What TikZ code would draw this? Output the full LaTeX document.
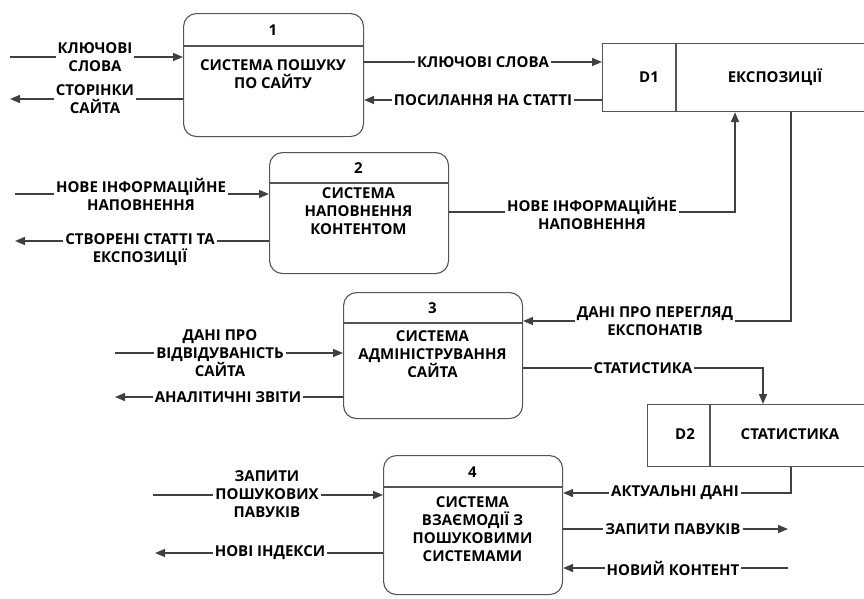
\documentclass[tikz,border=0pt]{standalone}
\usepackage{fontspec}
\setmainfont{Open Sans}
\usetikzlibrary{arrows.meta}
\definecolor{boxc}{RGB}{85,85,85}
\definecolor{linec}{RGB}{64,64,64}
\begin{document}
\begin{tikzpicture}[x=1pt,y=-1pt,
  every node/.style={font=\bfseries\fontsize{15}{18}\selectfont, text=black, inner sep=0pt},
  proc/.style={draw=boxc, line width=1.1pt, rounded corners=13pt, anchor=north west, minimum width=179pt},
  store/.style={draw=boxc, line width=1.1pt, anchor=north west},
  divl/.style={draw=boxc, line width=1.1pt},
  flow/.style={draw=linec, line width=1.6pt, -{Triangle[length=10pt,width=8pt]}},
  lbl/.style={fill=white, align=center, inner xsep=2pt, inner ysep=1pt},
  ptxt/.style={align=center}]
\useasboundingbox (0,0) rectangle (864,598);
\clip (0,0) rectangle (864,598);

% processes
\node[proc, minimum width=180pt, minimum height=123pt] (p1) at (183,13) {};
\node[proc, minimum height=121pt] (p2) at (269,152) {};
\node[proc, minimum height=126pt] (p3) at (343,292) {};
\node[proc, minimum height=139pt] (p4) at (383,455) {};
\draw[divl] ([yshift=-33pt]p1.north west) -- ([yshift=-33pt]p1.north east);
\draw[divl] ([yshift=-31pt]p2.north west) -- ([yshift=-31pt]p2.north east);
\draw[divl] ([yshift=-31pt]p3.north west) -- ([yshift=-31pt]p3.north east);
\draw[divl] ([yshift=-32pt]p4.north west) -- ([yshift=-32pt]p4.north east);

\node (p1n) at (273,30) {1};
\node[ptxt] (p1t) at (273,74.5) {СИСТЕМА ПОШУКУ\\ПО САЙТУ};
\node (p2n) at (358.5,168) {2};
\node[ptxt] (p2t) at (358.5,211.5) {СИСТЕМА\\НАПОВНЕННЯ\\КОНТЕНТОМ};
\node (p3n) at (432.5,308) {3};
\node[ptxt] (p3t) at (432.5,354) {СИСТЕМА\\АДМІНІСТРУВАННЯ\\САЙТА};
\node (p4n) at (472.5,472) {4};
\node[ptxt] (p4t) at (472.5,529) {СИСТЕМА\\ВЗАЄМОДІЇ З\\ПОШУКОВИМИ\\СИСТЕМАМИ};

% stores
\node[store, minimum width=300pt, minimum height=68pt] (d1) at (602,43) {};
\draw[divl] ([xshift=74pt]d1.north west) -- ([xshift=74pt]d1.south west);
\node (d1n) at (649,77) {D1};
\node (d1t) at (775,77) {ЕКСПОЗИЦІЇ};
\node[store, minimum width=260pt, minimum height=62pt] (d2) at (647,404) {};
\draw[divl] ([xshift=63pt]d2.north west) -- ([xshift=63pt]d2.south west);
\node (d2n) at (685,434) {D2};
\node (d2t) at (790,434) {СТАТИСТИКА};

% free ends
\coordinate (e1) at (10,57);
\coordinate (e2) at (10,99);
\coordinate (e3) at (15,194);
\coordinate (e4) at (15,241);
\coordinate (e5) at (115,353);
\coordinate (e6) at (115,397);
\coordinate (e7) at (153,495);
\coordinate (e8) at (155,553);
\coordinate (e9) at (788,529);
\coordinate (e10) at (788,568);

% flows
\draw[flow] (e1) -- (p1.west |- e1);
\draw[flow] (p1.west |- e2) -- (e2);
\draw[flow] (p1.east |- 0,62) -- (d1.west |- 0,62);
\draw[flow] (d1.west |- 0,100) -- (p1.east |- 0,100);
\draw[flow] (e3) -- (p2.west |- e3);
\draw[flow] (p2.west |- e4) -- (e4);
\draw[flow] (p2.east |- 0,212) -| ([xshift=133pt]d1.south west);
\draw[flow] ([xshift=189pt]d1.south west) |- (p3.east |- 0,321);
\draw[flow] (e5) -- (p3.west |- e5);
\draw[flow] (p3.west |- e6) -- (e6);
\draw[flow] (p3.east |- 0,368) -| ([xshift=116pt]d2.north west);
\draw[flow] (e7) -- (p4.west |- e7);
\draw[flow] (p4.west |- e8) -- (e8);
\draw[flow] ([xshift=144pt]d2.south west) |- (p4.east |- 0,493);
\draw[flow] (p4.east |- e9) -- (e9);
\draw[flow] (e10) -- (p4.east |- e10);

% labels
\node[lbl] (l1) at (95,57) {КЛЮЧОВІ\\СЛОВА};
\node[lbl] (l2) at (95,99) {СТОРІНКИ\\САЙТА};
\node[lbl] (l3) at (483,62) {КЛЮЧОВІ СЛОВА};
\node[lbl] (l4) at (483,100) {ПОСИЛАННЯ НА СТАТТІ};
\node[lbl] (l5) at (141,194) {НОВЕ ІНФОРМАЦІЙНЕ\\НАПОВНЕННЯ};
\node[lbl] (l6) at (140,249.5) {СТВОРЕНІ СТАТТІ ТА\\ЕКСПОЗИЦІЇ};
\node[lbl] (l7) at (592,213) {НОВЕ ІНФОРМАЦІЙНЕ\\НАПОВНЕННЯ};
\node[lbl] (l8) at (655,321) {ДАНІ ПРО ПЕРЕГЛЯД\\ЕКСПОНАТІВ};
\node[lbl] (l9) at (220,353) {ДАНІ ПРО\\ВІДВІДУВАНІСТЬ\\САЙТА};
\node[lbl] (l10) at (228,397) {АНАЛІТИЧНІ ЗВІТИ};
\node[lbl] (l11) at (643,368) {СТАТИСТИКА};
\node[lbl] (l12) at (267,494) {ЗАПИТИ\\ПОШУКОВИХ\\ПАВУКІВ};
\node[lbl] (l13) at (270,553) {НОВІ ІНДЕКСИ};
\node[lbl] (l14) at (675,493) {АКТУАЛЬНІ ДАНІ};
\node[lbl] (l15) at (673,529) {ЗАПИТИ ПАВУКІВ};
\node[lbl] (l16) at (673,568) {НОВИЙ КОНТЕНТ};
\end{tikzpicture}
\end{document}
